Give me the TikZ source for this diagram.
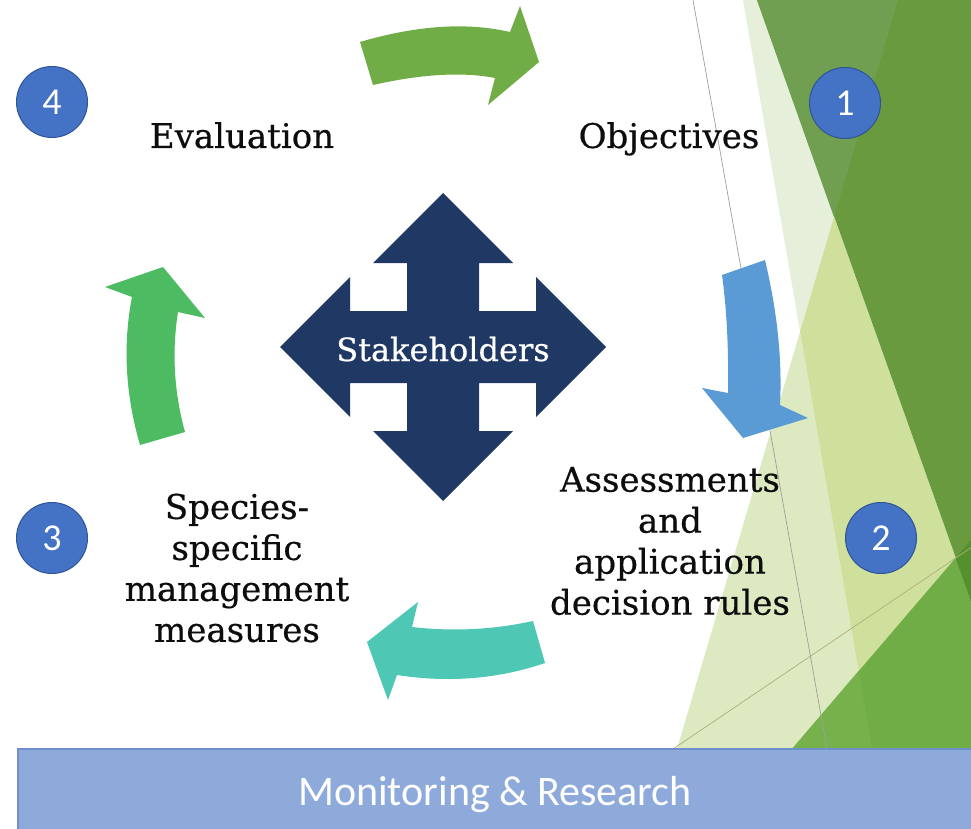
\documentclass[tikz,border=0pt]{standalone}
\usepackage{fontspec}
\setmainfont{DejaVu Serif}[FakeBold=0.5]
\newfontfamily\numfont{Carlito}
\definecolor{darkg}{HTML}{6A9A3E}
\definecolor{darkgl}{HTML}{719F52}
\definecolor{palea}{HTML}{E6EFD9}
\definecolor{paleb}{HTML}{DDE9C0}
\definecolor{paleab}{HTML}{CFE09D}
\definecolor{brightg}{HTML}{70AD47}
\definecolor{brightgl}{HTML}{76B14C}
\definecolor{deepg}{HTML}{55902E}
\definecolor{navy}{HTML}{203864}
\definecolor{numblue}{HTML}{4472C4}
\definecolor{numedge}{HTML}{2F5597}
\definecolor{barblue}{HTML}{8EAADB}
\definecolor{baredge}{HTML}{6F8FCB}
\definecolor{arrgreen}{HTML}{70AD47}
\definecolor{arrblue}{HTML}{5B9BD5}
\definecolor{arrteal}{HTML}{4EC7B4}
\definecolor{arrlgreen}{HTML}{4CBB62}
\definecolor{txt}{HTML}{0D0D0D}
\begin{document}
\begin{tikzpicture}[x=1pt,y=-1pt,
  numcirc/.style={circle, fill=numblue, draw=numedge, line width=1pt, minimum size=71pt, inner sep=0pt, text=white, font=\numfont\fontsize{38}{38}\selectfont},
  lbltext/.style={font=\fontsize{34}{41}\selectfont, text=txt, align=center, inner sep=0pt},
  thinline/.style={line width=0.7pt}
]
\useasboundingbox (0,0) rectangle (971,829);
\fill[white] (0,0) rectangle (971,829);
\begin{scope}
\clip (0,0) rectangle (971,829);
% facet background
\fill[paleb] (800.1,331.7) -- (677,749) -- (872,749) -- cycle;
\fill[palea] (743,0) -- (757,0) -- (1024,749) -- (872,749) -- cycle;
\fill[paleab] (834,217) -- (800.1,331.7) -- (872,749) -- (1024,749) -- cycle;
\fill[darkg] (757,0) -- (990,0) -- (990,749) -- (1024,749) -- cycle;
\fill[darkgl] (757,0) -- (898,0) -- (834,217) -- cycle;
\fill[brightg] (792,749) -- (971,540) -- (990,540) -- (990,760) -- (792,760) -- cycle;
\fill[brightgl] (792,749) -- (858.6,671) -- (872,749) -- cycle;
\fill[deepg] (955.6,558) -- (971,540) -- (971,601) -- cycle;
\draw[thinline, color=gray!75] (693,0) -- (827,749);
\draw[thinline, color=olive!45!gray!70] (673,749) -- (975,545);
% bar
\draw[fill=barblue, draw=baredge, line width=1.5pt] (18,749) rectangle (990,845);
\end{scope}
\node (monitor) [anchor=base, text=white, inner sep=0pt, font=\numfont\fontsize{42}{42}\selectfont] at (495,805) {Monitoring \& Research};
% cycle arrows
\fill[arrgreen] (360,42) .. controls (416.7,25.3) and (466.7,22) .. (510,32) -- (520,6) -- (539,62) -- (488,105) -- (495,78) .. controls (462.3,71.7) and (421.7,74) .. (373,85) -- cycle;
\fill[arrblue] (722,275) -- (765,260) .. controls (777.3,311.7) and (782.3,360) .. (780,405) -- (808,418) -- (743,438) -- (702,388) -- (728,393) .. controls (728.7,348.3) and (726.7,309) .. (722,275) -- cycle;
\fill[arrteal] (533,621) .. controls (493.3,629.7) and (453,631.7) .. (412,627) -- (418,602) -- (367,642) -- (388,700) -- (397,675) .. controls (449,683) and (498.3,679) .. (545,663) -- cycle;
\fill[arrlgreen] (140,445) .. controls (125.3,394.3) and (122.7,345) .. (132,297) -- (105,287) -- (163,267) -- (205,318) -- (178,312) .. controls (171.7,352) and (174,392) .. (185,432) -- cycle;
% stakeholders quad arrow
\fill[navy] (443,193) -- (513,263) -- (479,263) -- (479,311) -- (536,311) -- (536,277) -- (606,347) -- (536,417) -- (536,383) -- (479,383) -- (479,431) -- (513,431) -- (443,501) -- (373,431) -- (407,431) -- (407,383) -- (350,383) -- (350,417) -- (280,347) -- (350,277) -- (350,311) -- (407,311) -- (407,263) -- (373,263) -- cycle;
\node (stake) [anchor=base, text=white, inner sep=0pt, font=\fontsize{32}{32}\selectfont] at (443,361) {Stakeholders};
% labels
\node (eval) [lbltext, anchor=base] at (242,148) {Evaluation};
\node (obj) [lbltext, anchor=base] at (669,148) {Objectives};
\node (assess) [lbltext] at (670,541) {Assessments\\and\\application\\decision rules};
\node (species) [lbltext] at (237,568) {Species-\\specific\\management\\measures};
% numbers
\node (n1) [numcirc] at (845,103) {1};
\node (n2) [numcirc] at (881,538) {2};
\node (n3) [numcirc] at (52,538) {3};
\node (n4) [numcirc] at (52,102) {4};
\end{tikzpicture}
\end{document}
